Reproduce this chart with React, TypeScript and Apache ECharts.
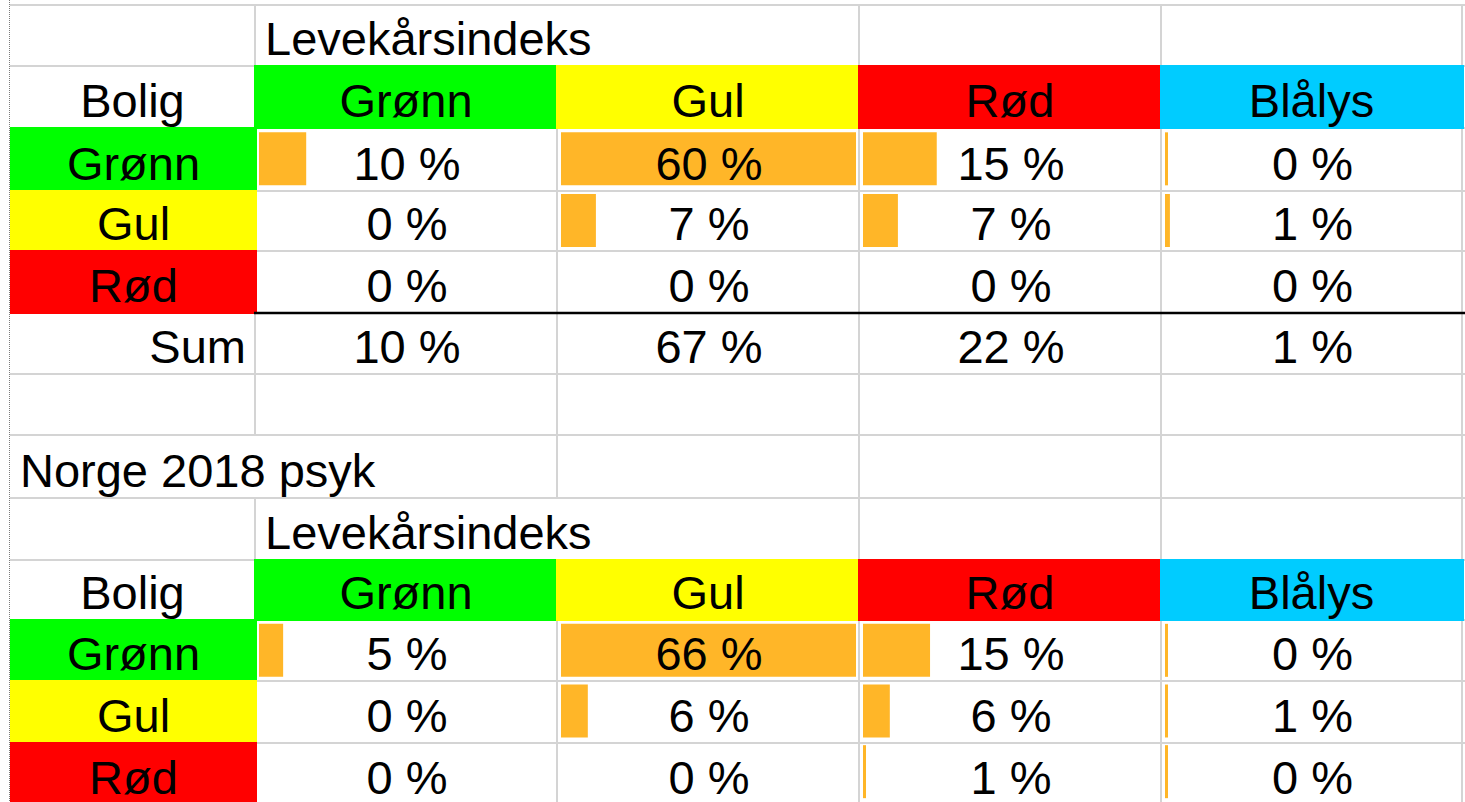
import React, { useEffect, useRef } from "react";
import * as echarts from "echarts";

// ---- data ----
const rowLabels = ["Grønn", "Gul", "Rød"];
const colLabels = ["Grønn", "Gul", "Rød", "Blålys"];
const sectionTitle = "Levekårsindeks";
const cornerLabel = "Bolig";
const sumLabel = "Sum";
const secondTitle = "Norge 2018 psyk";

// first table (values in %)
const topGronn = [9.6, 60, 15, 0.4];
const topGul = [0, 7.1, 7.1, 1.0];
const topRod = [0, 0, 0, 0];
const topSum = [10, 67, 22, 1];

// Norge 2018 psyk (values in %)
const norGronn = [5.4, 66, 15, 0.4];
const norGul = [0, 6.0, 6.0, 0.6];
const norRod = [0, 0, 0.6, 0.4];

// ---- layout / style ----
const X = [10, 255, 557, 859, 1161, 1462];
const Y = [5, 66, 128, 191, 251, 313, 374, 435, 498, 560, 620, 681, 743, 805];
const headerColors = ["#00ff00", "#ffff00", "#ff0000", "#00ccff"];
const labelColors = ["#00ff00", "#ffff00", "#ff0000"];
const GRID = "#d4d4d4";
const BAR = "#ffb628";
const FONT = "'Liberation Sans', Arial, sans-serif";
const FS = 47;

export default function App() {
  const ref = useRef<HTMLDivElement>(null);
  useEffect(() => {
    if (!ref.current) return;
    const chart = echarts.init(ref.current, null, { renderer: "svg" });
    const tables = [
      { rows: [topGronn, topGul, topRod], top: 2 },
      { rows: [norGronn, norGul, norRod], top: 10 },
    ];
    const graphics: any[] = [];
    // dotted left border
    graphics.push({
      type: "line",
      z: 1,
      shape: { x1: 9.5, y1: 0, x2: 9.5, y2: 802 },
      style: { stroke: "#7a7a7a", lineWidth: 1, lineDash: [1, 1] },
    });
    // horizontal grid lines
    for (let i = 0; i < Y.length; i++) {
      graphics.push({
        type: "line",
        z: 1,
        shape: { x1: X[0], y1: Y[i], x2: 1465, y2: Y[i] },
        style: { stroke: GRID, lineWidth: 2 },
      });
    }
    // vertical grid lines (hidden where text overflows)
    const hidden = new Set(["0-2", "7-1", "8-2"]);
    for (let r = 0; r < Y.length - 1; r++) {
      for (let k = 1; k < X.length; k++) {
        if (hidden.has(r + "-" + k)) continue;
        graphics.push({
          type: "line",
          z: 1,
          shape: { x1: X[k], y1: Y[r], x2: X[k], y2: Y[r + 1] },
          style: { stroke: GRID, lineWidth: 2 },
        });
      }
    }
    const txt = (s: string, x: number, r: number, align: string) => ({
      type: "text",
      z: 10,
      x,
      y: Y[r + 1] - 28,
      style: {
        text: s,
        fill: "#000",
        font: `${FS}px ${FONT}`,
        align,
        verticalAlign: "middle",
      },
    });
    const texts: any[] = [];
    tables.forEach((t, ti) => {
      const titleRow = t.top - 2;
      const headRow = t.top - 1;
      // header fills
      for (let c = 0; c < 4; c++) {
        graphics.push({
          type: "rect",
          z: 2,
          shape: {
            x: X[c + 1] - 1,
            y: Y[headRow] - 1,
            width: (c === 3 ? 1464 : X[c + 2] + 1) - (X[c + 1] - 1),
            height: Y[headRow + 1] - Y[headRow] + 2,
          },
          style: { fill: headerColors[c] },
        });
        texts.push(txt(colLabels[c], (X[c + 1] + X[c + 2]) / 2, headRow, "center"));
      }
      texts.push(txt(cornerLabel, (X[0] + X[1]) / 2, headRow, "center"));
      texts.push(txt(sectionTitle, X[1] + 10, titleRow, "left"));
      // row label fills
      for (let r = 0; r < 3; r++) {
        const rr = t.top + r;
        graphics.push({
          type: "rect",
          z: 2,
          shape: {
            x: X[0],
            y: Y[rr] - 1,
            width: X[1] + 2 - X[0],
            height: Y[rr + 1] - Y[rr] + 2,
          },
          style: { fill: labelColors[r] },
        });
        texts.push(txt(rowLabels[r], (X[0] + X[1]) / 2 + 1, rr, "center"));
        for (let c = 0; c < 4; c++) {
          texts.push(
            txt(Math.round(t.rows[r][c]) + " %", (X[c + 1] + X[c + 2]) / 2 + 1, rr, "center")
          );
        }
      }
      if (ti === 0) {
        const sr = t.top + 3;
        texts.push(txt(sumLabel, X[1] - 9, sr, "right"));
        for (let c = 0; c < 4; c++) {
          texts.push(txt(topSum[c] + " %", (X[c + 1] + X[c + 2]) / 2 + 1, sr, "center"));
        }
      }
    });
    // black line above Sum
    graphics.push({
      type: "line",
      z: 3,
      shape: { x1: X[1] - 1, y1: Y[5], x2: 1465, y2: Y[5] },
      style: { stroke: "#000", lineWidth: 2.5 },
    });
    texts.push(txt(secondTitle, 20, 7, "left"));

    const grids: any[] = [];
    const xAxes: any[] = [];
    const yAxes: any[] = [];
    const series: any[] = [];
    tables.forEach((t) => {
      const max = Math.max(...t.rows.flat());
      for (let c = 0; c < 4; c++) {
        const idx = grids.length;
        grids.push({
          left: X[c + 1] + 4,
          width: 295,
          top: Y[t.top],
          height: Y[t.top + 3] - Y[t.top],
        });
        xAxes.push({ type: "value", gridIndex: idx, min: 0, max, show: false });
        yAxes.push({
          type: "category",
          gridIndex: idx,
          data: rowLabels,
          inverse: true,
          show: false,
        });
        series.push({
          type: "bar",
          xAxisIndex: idx,
          yAxisIndex: idx,
          z: 3,
          barWidth: 53,
          barMinHeight: 3,
          silent: true,
          itemStyle: { color: BAR },
          data: t.rows.map((row) => (row[c] === 0 ? "-" : row[c])),
        });
      }
    });

    chart.setOption({
      animation: false,
      backgroundColor: "#fff",
      grid: grids,
      xAxis: xAxes,
      yAxis: yAxes,
      series,
      graphic: { elements: [...graphics, ...texts] },
    });
    return () => chart.dispose();
  }, []);
  return (
    <div
      ref={ref}
      style={{ position: "absolute", left: 0, top: 0, width: 1465, height: 802 }}
    />
  );
}
